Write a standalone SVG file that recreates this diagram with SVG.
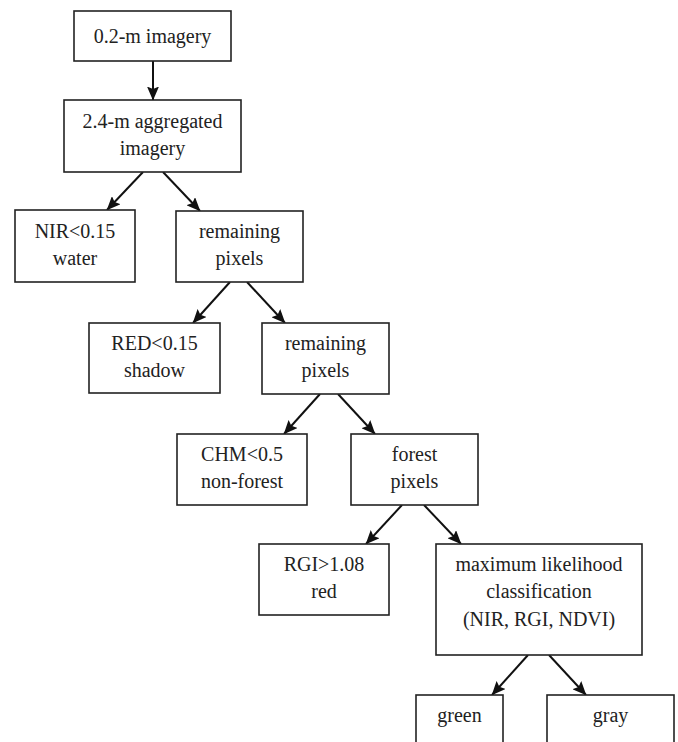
<svg xmlns="http://www.w3.org/2000/svg" width="678" height="742" viewBox="0 0 678 742">
<style>
  .box { fill: #fff; stroke: #222; stroke-width: 1.6; }
  .lbl { font-family: 'Liberation Serif', 'DejaVu Serif', serif; font-size: 20px; fill: #222; text-anchor: middle; }
  .edge { stroke: #111; stroke-width: 2; fill: none; marker-end: url(#arrow); }
</style>
<defs>
  <marker id="arrow" markerUnits="userSpaceOnUse" markerWidth="14" markerHeight="12" viewBox="0 0 14 12" refX="13.5" refY="6" orient="auto">
    <path d="M0,0 L14,6 L0,12 L2.5,6 Z" fill="#111"/>
  </marker>
</defs>
<rect width="678" height="742" fill="#fff"/>
<g id="connectors">
  <line class="edge" x1="153" y1="61" x2="153" y2="100"/>
  <line class="edge" x1="143" y1="172" x2="107" y2="210"/>
  <line class="edge" x1="163" y1="172" x2="200" y2="211"/>
  <line class="edge" x1="230" y1="282" x2="193" y2="323"/>
  <line class="edge" x1="247" y1="282" x2="285" y2="323"/>
  <line class="edge" x1="320" y1="394" x2="284" y2="434"/>
  <line class="edge" x1="338" y1="394" x2="375" y2="434"/>
  <line class="edge" x1="402" y1="505" x2="366" y2="544"/>
  <line class="edge" x1="424" y1="505" x2="461" y2="544"/>
  <line class="edge" x1="528" y1="655" x2="492" y2="695"/>
  <line class="edge" x1="549" y1="655" x2="586" y2="695"/>
</g>
<g id="n-imagery">
  <rect class="box" x="74" y="11" width="157" height="50"/>
  <text class="lbl" x="152.5" y="43">0.2-m imagery</text>
</g>
<g id="n-aggregated">
  <rect class="box" x="64" y="100" width="177" height="72"/>
  <text class="lbl" x="152.5" y="128">2.4-m aggregated</text>
  <text class="lbl" x="152.5" y="155">imagery</text>
</g>
<g id="n-water">
  <rect class="box" x="15" y="210" width="120" height="72"/>
  <text class="lbl" x="75" y="238">NIR&lt;0.15</text>
  <text class="lbl" x="75" y="265">water</text>
</g>
<g id="n-remaining1">
  <rect class="box" x="176" y="211" width="127" height="71"/>
  <text class="lbl" x="239.5" y="238">remaining</text>
  <text class="lbl" x="239.5" y="265">pixels</text>
</g>
<g id="n-shadow">
  <rect class="box" x="89" y="323" width="131" height="70"/>
  <text class="lbl" x="154.5" y="350">RED&lt;0.15</text>
  <text class="lbl" x="154.5" y="377">shadow</text>
</g>
<g id="n-remaining2">
  <rect class="box" x="262" y="323" width="127" height="71"/>
  <text class="lbl" x="325.5" y="350">remaining</text>
  <text class="lbl" x="325.5" y="377">pixels</text>
</g>
<g id="n-nonforest">
  <rect class="box" x="177" y="434" width="130" height="71"/>
  <text class="lbl" x="242" y="461">CHM&lt;0.5</text>
  <text class="lbl" x="242" y="488">non-forest</text>
</g>
<g id="n-forest">
  <rect class="box" x="351" y="434" width="127" height="71"/>
  <text class="lbl" x="414.5" y="461">forest</text>
  <text class="lbl" x="414.5" y="488">pixels</text>
</g>
<g id="n-red">
  <rect class="box" x="259" y="544" width="130" height="71"/>
  <text class="lbl" x="324" y="571">RGI&gt;1.08</text>
  <text class="lbl" x="324" y="598">red</text>
</g>
<g id="n-mlc">
  <rect class="box" x="436" y="544" width="206" height="111"/>
  <text class="lbl" x="539" y="571">maximum likelihood</text>
  <text class="lbl" x="539" y="598">classification</text>
  <text class="lbl" x="539" y="626">(NIR, RGI, NDVI)</text>
</g>
<g id="n-green">
  <rect class="box" x="416" y="695" width="87" height="60"/>
  <text class="lbl" x="459.5" y="722">green</text>
</g>
<g id="n-gray">
  <rect class="box" x="547" y="695" width="127" height="60"/>
  <text class="lbl" x="610.5" y="722">gray</text>
</g>
</svg>
